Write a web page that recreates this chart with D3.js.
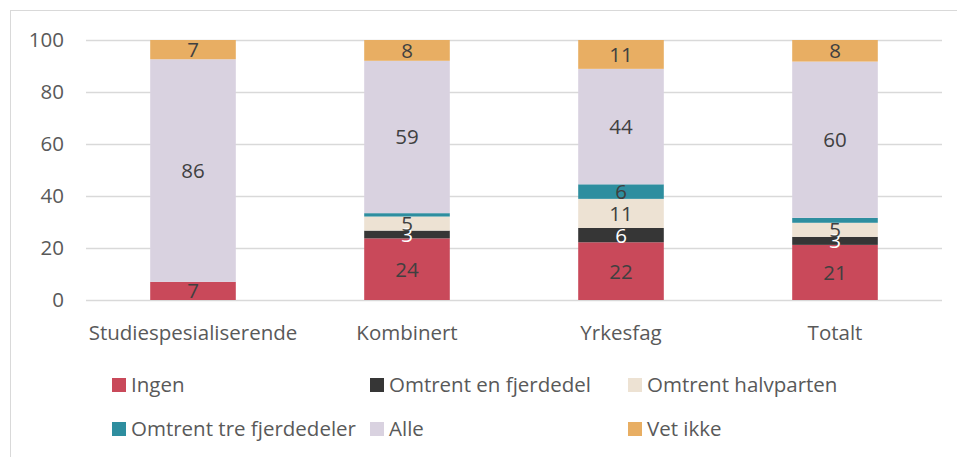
<!DOCTYPE html>
<html><head><meta charset="utf-8">
<script src="https://cdn.jsdelivr.net/npm/d3@7/dist/d3.min.js"></script>
<style>body{margin:0;background:#fff}svg{display:block}text{font-family:"Open Sans",sans-serif}</style>
</head><body><svg id="c" width="957" height="457"></svg>
<script>
const categories = ["Studiespesialiserende","Kombinert","Yrkesfag","Totalt"];
const seriesNames = ["Ingen","Omtrent en fjerdedel","Omtrent halvparten","Omtrent tre fjerdedeler","Alle","Vet ikke"];
const colors = ["#C9495A","#363636","#EDE2D3","#2E8E9F","#D9D2E0","#E8AE63"];
const labelColors = ["#404040","#ffffff","#404040","#404040","#404040","#404040"];
const ingen = [7.0, 23.7, 22.2, 21.2];
const fjerdedel = [0, 3.0, 5.5, 3.1];
const halvparten = [0, 5.4, 11.2, 5.4];
const treFjerdedeler = [0, 1.3, 5.6, 1.9];
const alle = [85.6, 58.6, 44.4, 60.1];
const vetIkke = [7.4, 8.0, 11.1, 8.3];
const yTicks = [0,20,40,60,80,100];

const FS = 20.5;
const seriesValues = [ingen, fjerdedel, halvparten, treFjerdedeler, alle, vetIkke];
const svg = d3.select("#c");
svg.append("rect").attr("x",10.5).attr("y",10.5).attr("width",960).attr("height",460)
  .attr("fill","none").attr("stroke","#d9d9d9").attr("stroke-width",1);

const x = d3.scaleBand().domain(categories).range([86,942]).paddingInner(0.6).paddingOuter(0.3);
const y = d3.scaleLinear().domain([0,100]).range([300,40]);

// gridlines
svg.append("g").selectAll("line").data(yTicks).join("line")
  .attr("x1",86).attr("x2",942).attr("y1",d=>Math.round(y(d))+0.5).attr("y2",d=>Math.round(y(d))+0.5)
  .attr("stroke","#d9d9d9").attr("stroke-width",1.3);

// y axis labels
const yAxis = d3.axisLeft(y).tickValues(yTicks).tickSize(0).tickPadding(0);
const ya = svg.append("g").attr("transform","translate(64,0)").call(yAxis);
ya.select(".domain").remove();
ya.selectAll("text").attr("font-size",FS).attr("fill","#595959").attr("font-family","'Open Sans',sans-serif");

// x axis labels
const xAxis = d3.axisBottom(x).tickSize(0).tickPadding(0);
const xa = svg.append("g").attr("transform","translate(0,325)").call(xAxis);
xa.select(".domain").remove();
xa.selectAll("text").attr("font-size",FS).attr("fill","#595959").attr("font-family","'Open Sans',sans-serif");

// stack
const rows = categories.map((c,i)=>{const r={cat:c}; seriesNames.forEach((s,j)=>r[s]=seriesValues[j][i]); return r;});
const stack = d3.stack().keys(seriesNames)(rows);
const g = svg.append("g");
stack.forEach((layer,li)=>{
  g.append("g").selectAll("rect").data(layer).join("rect")
    .attr("x",d=>x(d.data.cat)).attr("width",x.bandwidth())
    .attr("y",d=>y(d[1])).attr("height",d=>y(d[0])-y(d[1]))
    .attr("fill",colors[li]);
});
stack.forEach((layer,li)=>{
  g.append("g").selectAll("text").data(layer.filter(d=>d[1]-d[0]>=2.5)).join("text")
    .attr("x",d=>x(d.data.cat)+x.bandwidth()/2)
    .attr("y",d=>(y(d[0])+y(d[1]))/2)
    .attr("dy","0.36em").attr("text-anchor","middle")
    .attr("font-size",FS).attr("fill",labelColors[li])
    .text(d=>Math.round(d[1]-d[0]));
});

// legend
const legX = [112,370,628];
const legY = [378,422];
const leg = svg.append("g");
seriesNames.forEach((s,i)=>{
  const col=i%3,row=Math.floor(i/3);
  const lg = leg.append("g").attr("transform",`translate(${legX[col]},${legY[row]})`);
  lg.append("rect").attr("width",14).attr("height",14).attr("fill",colors[i]);
  lg.append("text").attr("x",19).attr("y",7).attr("dy","0.36em").attr("font-size",FS).attr("fill","#595959").text(s);
});
</script></body></html>
